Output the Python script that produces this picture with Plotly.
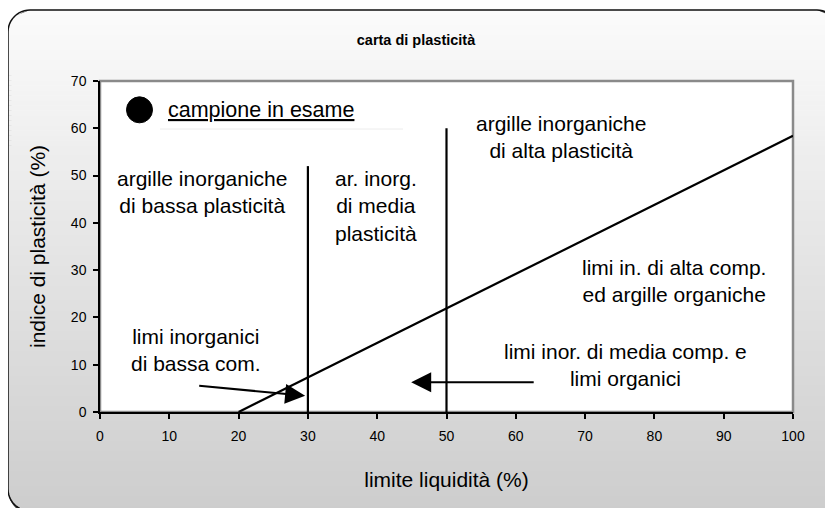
import math
import plotly.graph_objects as go

# A-line and the two vertical limits of the plasticity chart
a_line_ll = [20, 100]
a_line_pi = [0, 58.4]
limit30_ll = [30, 30]
limit30_pi = [0, 52]
limit50_ll = [50, 50]
limit50_pi = [0, 60]

x_ticks = [0, 10, 20, 30, 40, 50, 60, 70, 80, 90, 100]
y_ticks = [0, 10, 20, 30, 40, 50, 60, 70]

zone_labels = [
    "argille inorganiche<br>di bassa plasticità",
    "ar. inorg.<br>di media<br>plasticità",
    "argille inorganiche<br>di alta plasticità",
    "limi in. di alta comp.<br>ed argille organiche",
    "limi inor. di media comp. e<br>limi organici",
    "limi inorganici<br>di bassa com.",
]
zone_x = [14.7, 39.8, 66.5, 82.8, 75.9, 13.85]
zone_y = [46.6, 43.6, 58.2, 27.6, 9.9, 13.2]

FONT = "Liberation Sans, Arial, sans-serif"
W, H = 833, 508
OFF = 8  # page offset of the figure (body margin)
PL, PR, PT, PB = 100, 793, 81, 412  # plot area on the page
PW, PH = PR - PL, PB - PT


def px(x):
    return (x - PL) / PW


def py(y):
    return (PB - y) / PH


# rounded frame (page pixel coords)
FL, FR, FT, FB, RAD = 8, 839, 10, 511, 22


def frame_x(y, side):
    if y < FT + RAD:
        d = FT + RAD - y
    elif y > FB - RAD:
        d = y - (FB - RAD)
    else:
        d = 0
    off = RAD - math.sqrt(max(RAD ** 2 - d ** 2, 0))
    return FL + off if side == "l" else FR - off


def frame_path(dx=0, dy=0):
    pts = []
    corners = [(FR - RAD, FT + RAD, -90, 0), (FR - RAD, FB - RAD, 0, 90),
               (FL + RAD, FB - RAD, 90, 180), (FL + RAD, FT + RAD, 180, 270)]
    for cx, cy, a0, a1 in corners:
        for k in range(13):
            a = math.radians(a0 + (a1 - a0) * k / 12)
            pts.append((cx + RAD * math.cos(a) + dx, cy + RAD * math.sin(a) + dy))
    return "M" + " L".join(f"{px(x):.5f},{py(y):.5f}" for x, y in pts) + " Z"


shapes = []
# shadow
shapes.append(dict(type="path", xref="paper", yref="paper", path=frame_path(2, 2),
                   line=dict(color="#3a3a3a", width=3), layer="below"))
# gradient background, thin bands clipped to the rounded frame
nb = 100
for i in range(nb):
    ya = FT + (FB - FT) * i / nb
    yb = FT + (FB - FT) * (i + 1) / nb
    t = (i + 0.5) / nb
    g = round(251 - t * 46)
    path = (f"M{px(frame_x(ya, 'l')):.5f},{py(ya):.5f} L{px(frame_x(ya, 'r')):.5f},{py(ya):.5f} "
            f"L{px(frame_x(yb, 'r')):.5f},{py(yb + 0.6):.5f} L{px(frame_x(yb, 'l')):.5f},{py(yb + 0.6):.5f} Z")
    shapes.append(dict(type="path", xref="paper", yref="paper", path=path,
                       fillcolor=f"rgb({g},{g},{g})", line=dict(width=0), layer="below"))
# frame outline
shapes.append(dict(type="path", xref="paper", yref="paper", path=frame_path(),
                   line=dict(color="#111111", width=1.5), layer="below"))
# plot area
shapes.append(dict(type="rect", xref="paper", yref="paper", x0=0, x1=1, y0=0, y1=1,
                   fillcolor="white", line=dict(color="#8a8a8a", width=2.5), layer="below"))
# legend box line and marker
shapes.append(dict(type="line", xref="paper", yref="paper", x0=px(160), x1=px(403),
                   y0=py(129), y1=py(129), line=dict(color="#ececec", width=1), layer="below"))
shapes.append(dict(type="circle", xref="x", yref="y", xsizemode="pixel", ysizemode="pixel",
                   xanchor=5.7, yanchor=63.9, x0=-13, x1=13, y0=-13, y1=13,
                   fillcolor="black", line=dict(color="black", width=1)))

fig = go.Figure()
for xs, ys in [(a_line_ll, a_line_pi), (limit30_ll, limit30_pi), (limit50_ll, limit50_pi)]:
    fig.add_trace(go.Scatter(x=xs, y=ys, mode="lines", line=dict(color="black", width=2.2),
                             showlegend=False, hoverinfo="skip"))

annotations = []
for txt, x, y in zip(zone_labels, zone_x, zone_y):
    annotations.append(dict(x=x, y=y, xref="x", yref="y", text=txt, showarrow=False,
                            font=dict(family=FONT, size=21, color="black"), align="center"))
annotations.append(dict(x=9.5, y=63.9, xref="x", yref="y", text="<u>campione in esame</u>",
                        showarrow=False, xanchor="left",
                        font=dict(family=FONT, size=21.5, color="black")))
# arrows
annotations.append(dict(x=29.6, y=3.45, ax=14.1, ay=5.56, xref="x", yref="y", axref="x", ayref="y",
                        text="", showarrow=True, arrowhead=2, arrowsize=2, arrowwidth=2,
                        arrowcolor="black"))
annotations.append(dict(x=44.9, y=6.28, ax=62.8, ay=6.28, xref="x", yref="y", axref="x", ayref="y",
                        text="", showarrow=True, arrowhead=2, arrowsize=2, arrowwidth=2,
                        arrowcolor="black"))

axis_common = dict(showgrid=False, zeroline=False, showline=True, linecolor="black", linewidth=1.5,
                   ticks="outside", ticklen=5, tickwidth=1.5, tickcolor="black",
                   tickfont=dict(family=FONT, size=14, color="black"))

fig.update_layout(
    width=W, height=H,
    margin=dict(l=PL - OFF, r=W - (PR - OFF), t=PT - OFF, b=H - (PB - OFF)),
    paper_bgcolor="white", plot_bgcolor="rgba(0,0,0,0)",
    title=dict(text="<b>carta di plasticità</b>", x=(416 - OFF) / W, xref="container",
               y=1 - (40 - OFF) / H, yref="container", yanchor="middle", xanchor="center",
               font=dict(family=FONT, size=14.5, color="black")),
    xaxis=dict(range=[0, 100], tickvals=x_ticks, ticklabelstandoff=5, **axis_common,
               title=dict(text="limite liquidità (%)", standoff=30,
                          font=dict(family=FONT, size=21, color="black"))),
    yaxis=dict(range=[0, 70], tickvals=y_ticks, ticklabelstandoff=4, **axis_common,
               title=dict(text="indice di plasticità (%)", standoff=20,
                          font=dict(family=FONT, size=21, color="black"))),
    shapes=shapes,
    annotations=annotations,
    showlegend=False,
)

fig.write_html("out.html")
